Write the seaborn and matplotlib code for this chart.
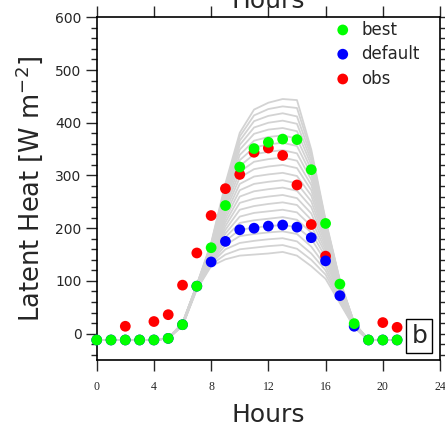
import matplotlib
matplotlib.use("Agg")
import matplotlib.pyplot as plt
from matplotlib.ticker import MultipleLocator
import numpy as np
import pandas as pd
import seaborn as sns

hours = list(range(22))

best = [-12, -12, -12, -12, -12, -9, 17, 90, 163, 243, 316, 351, 363, 369, 368,
        311, 209, 94, 19, -12, -12, -12]
default = [-12, -12, -12, -12, -12, -9, 17, 90, 136, 175, 197, 200, 204, 206, 202,
           182, 138, 72, 14, -12, -12, -12]
obs = [np.nan, np.nan, 14, np.nan, 23, 36, 92, 153, 224, 275, 302, 344, 352, 338,
       282, 207, 147, np.nan, np.nan, np.nan, 21, 12]

# perturbed-parameter ensemble members (hours 0-21)
night_am = [-12, -12, -12, -12, -12, -9]
night_pm = [-12, -12, -12]
members_day = [
    [15, 84, 128, 141, 148, 150, 152, 155, 148, 128, 104, 58, 12],
    [15, 85, 131, 150, 160, 163, 166, 168, 161, 140, 112, 62, 12],
    [16, 86, 133, 160, 172, 176, 179, 181, 175, 152, 120, 65, 13],
    [16, 87, 135, 168, 185, 189, 192, 194, 189, 165, 128, 68, 13],
    [17, 88, 137, 176, 197, 201, 204, 206, 202, 180, 137, 72, 14],
    [17, 88, 139, 183, 210, 215, 218, 221, 216, 192, 145, 75, 14],
    [17, 89, 141, 190, 222, 229, 232, 235, 230, 204, 152, 78, 15],
    [17, 89, 143, 197, 235, 242, 246, 249, 244, 216, 158, 80, 15],
    [18, 89, 145, 204, 248, 256, 260, 263, 257, 228, 164, 83, 16],
    [18, 90, 147, 211, 260, 270, 274, 277, 271, 240, 170, 85, 16],
    [18, 90, 149, 218, 272, 284, 288, 291, 285, 251, 176, 87, 17],
    [18, 90, 151, 225, 284, 298, 302, 305, 299, 262, 181, 89, 17],
    [18, 90, 153, 232, 296, 312, 317, 320, 314, 272, 186, 91, 18],
    [19, 91, 155, 239, 307, 326, 331, 334, 328, 282, 190, 92, 18],
    [19, 91, 157, 245, 318, 340, 345, 348, 342, 292, 194, 94, 18],
    [19, 91, 159, 251, 329, 353, 359, 362, 356, 302, 198, 95, 19],
    [19, 91, 161, 257, 339, 366, 373, 376, 370, 311, 201, 96, 19],
    [19, 92, 163, 263, 349, 379, 387, 390, 384, 320, 204, 97, 19],
    [20, 92, 166, 269, 358, 391, 400, 404, 398, 328, 207, 98, 20],
    [20, 92, 168, 275, 366, 403, 413, 418, 412, 336, 210, 99, 20],
    [20, 92, 170, 280, 374, 414, 426, 431, 428, 343, 213, 100, 20],
    [20, 93, 172, 285, 381, 425, 438, 445, 443, 349, 216, 101, 20],
]

x_ticks = [0, 4, 8, 12, 16, 20, 24]
y_ticks = [0, 100, 200, 300, 400, 500, 600]

rows = []
for m, day in enumerate(members_day):
    vals = night_am + day + night_pm
    for h, v in zip(hours, vals):
        rows.append({"member": m, "hour": h, "lh": v})
ens = pd.DataFrame(rows)

pts = pd.DataFrame({
    "hour": hours * 3,
    "lh": obs + default + best,
    "run": ["obs"] * 22 + ["default"] * 22 + ["best"] * 22,
})

sns.set_style("ticks")
plt.rcParams["font.family"] = ["DejaVu Sans"]

fig = plt.figure(figsize=(4.45, 4.25), dpi=100)
ax = fig.add_axes([0.2173, 0.1529, 0.7715, 0.8064])

sns.lineplot(data=ens, x="hour", y="lh", units="member", estimator=None,
             color="#d3d3d3", linewidth=1.3, ax=ax, legend=False, zorder=1)

palette = {"obs": "#ff0000", "default": "#0000ff", "best": "#00ff00"}
for run in ["obs", "default", "best"]:
    sns.scatterplot(data=pts[pts["run"] == run], x="hour", y="lh", color=palette[run],
                    s=60, edgecolor="none", ax=ax, legend=False, zorder=3,
                    clip_on=False)

ax.set_xlim(0, 24)
ax.set_ylim(-50, 600)
ax.set_xticks(x_ticks)
ax.set_yticks(y_ticks)
ax.yaxis.set_minor_locator(MultipleLocator(20))
ax.set_xticklabels([str(t) for t in x_ticks], family="Liberation Serif", fontsize=8.5)
ax.set_yticklabels([str(t) for t in y_ticks], fontsize=10)

ax.tick_params(axis="x", which="major", direction="out", length=8, width=1,
               top=True, labeltop=False, bottom=True, pad=7)
ax.tick_params(axis="y", which="major", direction="out", length=8, width=1,
               left=True, right=True, pad=3)
ax.tick_params(axis="y", which="minor", direction="out", length=4.5, width=1,
               left=True, right=True)
for sp in ax.spines.values():
    sp.set_visible(True)
    sp.set_linewidth(1.2)
    sp.set_color("black")

ax.set_xlabel("")
ax.set_ylabel("")

# axis titles
fig.text(268 / 445, 1 - 421.5 / 425, "Hours", fontsize=18, ha="center",
         va="baseline")
fig.text(268 / 445, 1 - 7.5 / 425, "Hours", fontsize=18, ha="center",
         va="baseline")
fig.text(29 / 445, 189 / 425 * 0 + 1 - 189 / 425, "Latent Heat [W m$^{-2}$]",
         fontsize=18.5, rotation=90, ha="center", va="center")

# legend entries
leg_y = [576, 530, 483]
leg_names = ["best", "default", "obs"]
for yv, name in zip(leg_y, leg_names):
    ax.scatter([17.2], [yv], s=60, color=palette[name], edgecolor="none", zorder=4)
    ax.text(18.5, yv, name, fontsize=12, va="center", ha="left")

# panel tag
ax.text(22.55, -4, "b", fontsize=18, ha="center", va="center",
        bbox=dict(boxstyle="square,pad=0.2", facecolor="white", edgecolor="black",
                  linewidth=1))

fig.savefig("out.png", dpi=100)
